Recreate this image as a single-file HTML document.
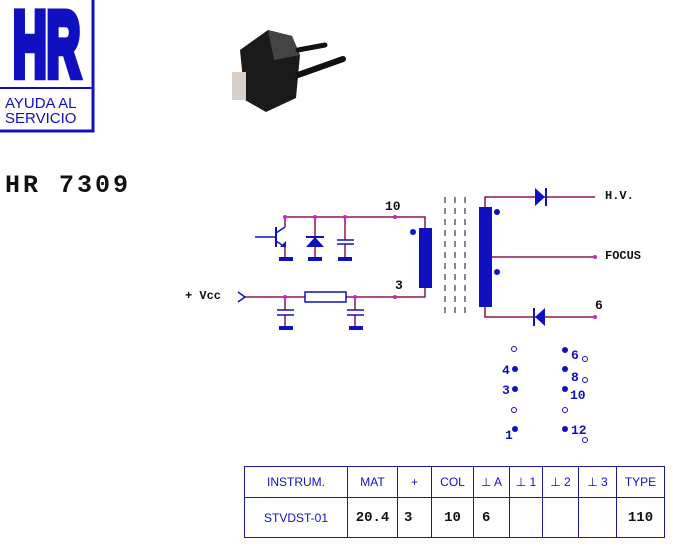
<!DOCTYPE html>
<html><head><meta charset="utf-8"><style>
body{margin:0;background:#fff;width:673px;height:548px;overflow:hidden;position:relative;font-family:"Liberation Sans",sans-serif}
table{position:absolute;left:244px;top:466px;border-collapse:collapse;color:#1010c0}
td{border:1px solid #1a1a9a;text-align:center;font-size:12px;padding:0}
.b{font-family:"Liberation Mono",monospace;font-weight:bold;color:#111;font-size:14px}
</style></head><body>
<svg width="673" height="548" style="position:absolute;left:0;top:0" font-family="Liberation Mono, monospace" font-weight="bold">
<!-- logo -->
<rect x="-2" y="-2" width="95" height="133" fill="none" stroke="#1010c0" stroke-width="3"/>
<line x1="0" y1="88" x2="93" y2="88" stroke="#1010c0" stroke-width="2"/>
<text transform="translate(13 76) scale(0.48 0.95)" x="0" y="0" font-family="Liberation Sans, sans-serif" font-size="97" fill="#1010c0" stroke="#1010c0" stroke-width="9" stroke-linejoin="miter">HR</text>
<text x="5" y="108" font-family="Liberation Sans, sans-serif" font-weight="normal" font-size="15" fill="#1010c0">AYUDA AL</text>
<text x="5" y="123" font-family="Liberation Sans, sans-serif" font-weight="normal" font-size="15" fill="#1010c0">SERVICIO</text>
<text x="5" y="192" font-size="25" letter-spacing="3" fill="#111">HR 7309</text>
<!-- photo -->
<g>
<polygon points="240,50 268,30 292,36 300,55 296,98 266,112 245,100" fill="#1a1a1a"/>
<polygon points="268,30 292,36 300,55 274,60" fill="#444"/>
<rect x="232" y="72" width="14" height="28" fill="#d8d0c8"/>
<line x1="298" y1="50" x2="325" y2="45" stroke="#111" stroke-width="5" stroke-linecap="round"/>
<line x1="298" y1="75" x2="343" y2="59" stroke="#111" stroke-width="6" stroke-linecap="round"/>
</g>
<!-- circuit wires -->
<g stroke="#8a1850" stroke-width="1.5" fill="none">
<polyline points="285,227 285,217 425,217 425,228"/>
<polyline points="245,297 305,297"/><polyline points="346,297 425,297 425,288"/>
<line x1="315" y1="217" x2="315" y2="259"/><line x1="345" y1="217" x2="345" y2="240"/><line x1="345" y1="244" x2="345" y2="259"/>
<line x1="285" y1="247" x2="285" y2="259"/>
<line x1="285" y1="297" x2="285" y2="310"/><line x1="285" y1="315" x2="285" y2="328"/>
<line x1="355" y1="297" x2="355" y2="310"/><line x1="355" y1="315" x2="355" y2="328"/>
<polyline points="485,207 485,197 595,197"/>
<polyline points="485,307 485,317 595,317"/>
<line x1="485" y1="257" x2="595" y2="257"/>
</g>
<g stroke="#1010c0" stroke-width="1.5" fill="none">
<line x1="255" y1="237" x2="276" y2="237"/><line x1="276" y1="227" x2="276" y2="247" stroke-width="2"/>
<line x1="276" y1="233" x2="285" y2="227"/><line x1="276" y1="241" x2="285" y2="247"/>
<polyline points="238,292 245,297 238,302"/>
<line x1="337" y1="240" x2="354" y2="240"/><line x1="337" y1="244" x2="354" y2="244"/>
<line x1="277" y1="310" x2="294" y2="310"/><line x1="277" y1="315" x2="294" y2="315"/>
<line x1="347" y1="310" x2="364" y2="310"/><line x1="347" y1="315" x2="364" y2="315"/>
<rect x="305" y="292" width="41" height="10" stroke="#1010c0"/>
<g stroke="#111" stroke-width="1" stroke-dasharray="6,5"><line x1="445" y1="197" x2="445" y2="318"/><line x1="455" y1="197" x2="455" y2="318"/><line x1="465" y1="197" x2="465" y2="318"/></g>
</g>
<g fill="#1010c0">
<polygon points="280,247 286,241 286,247"/>
<rect x="279" y="257" width="14" height="4"/><rect x="308" y="257" width="14" height="4"/><rect x="338" y="257" width="14" height="4"/>
<rect x="279" y="326" width="14" height="4"/><rect x="349" y="326" width="14" height="4"/>
<polygon points="306,247 324,247 315,237"/><rect x="306" y="236" width="18" height="2"/>
<rect x="419" y="228" width="13" height="60"/><rect x="479" y="207" width="13" height="100"/>
<circle cx="413" cy="232" r="3"/><circle cx="497" cy="212" r="3"/><circle cx="497" cy="272" r="3"/>
<polygon points="535,188 545,197 535,206"/><rect x="545" y="188" width="2" height="18"/>
<polygon points="545,308 535,317 545,326"/><rect x="533" y="308" width="2" height="18"/>
</g>
<g fill="#d020d0">
<circle cx="285" cy="217" r="2"/><circle cx="315" cy="217" r="2"/><circle cx="345" cy="217" r="2"/><circle cx="395" cy="217" r="2"/>
<circle cx="285" cy="297" r="2"/><circle cx="355" cy="297" r="2"/><circle cx="395" cy="297" r="2"/>
<circle cx="595" cy="257" r="2"/><circle cx="595" cy="317" r="2"/>
</g>
<g font-size="13" fill="#111">
<text x="385" y="210">10</text><text x="395" y="289">3</text><text x="185" y="299" font-size="12">+ Vcc</text>
<text x="605" y="199" font-size="12">H.V.</text><text x="605" y="259" font-size="12">FOCUS</text><text x="595" y="309">6</text>
</g>
<!-- pins -->
<g fill="#1010c0">
<circle cx="515" cy="369" r="3"/><circle cx="515" cy="389" r="3"/><circle cx="515" cy="429" r="3"/>
<circle cx="565" cy="350" r="3"/><circle cx="565" cy="369" r="3"/><circle cx="565" cy="389" r="3"/><circle cx="565" cy="429" r="3"/>
</g>
<g fill="none" stroke="#1010c0" stroke-width="1">
<circle cx="514" cy="349" r="2.5"/><circle cx="514" cy="410" r="2.5"/><circle cx="565" cy="410" r="2.5"/>
<circle cx="585" cy="359" r="2.5"/><circle cx="585" cy="380" r="2.5"/><circle cx="585" cy="440" r="2.5"/>
</g>
<g font-size="13" fill="#1010c0">
<text x="502" y="374">4</text><text x="502" y="394">3</text><text x="505" y="439">1</text>
<text x="571" y="359">6</text><text x="571" y="381">8</text><text x="570" y="399">10</text><text x="571" y="434">12</text>
</g>
</svg>
<table>
<tr style="height:31px"><td style="width:102px">INSTRUM.</td><td style="width:49px">MAT</td><td style="width:33px">+</td><td style="width:41px">COL</td><td style="width:35px">⊥ A</td><td style="width:32px">⊥ 1</td><td style="width:35px">⊥ 2</td><td style="width:37px">⊥ 3</td><td style="width:47px">TYPE</td></tr>
<tr style="height:40px"><td>STVDST-01</td><td class="b">20.4</td><td class="b" style="text-align:left;padding-left:6px">3</td><td class="b">10</td><td class="b" style="text-align:left;padding-left:8px">6</td><td></td><td></td><td></td><td class="b">110</td></tr>
</table>
</body></html>
